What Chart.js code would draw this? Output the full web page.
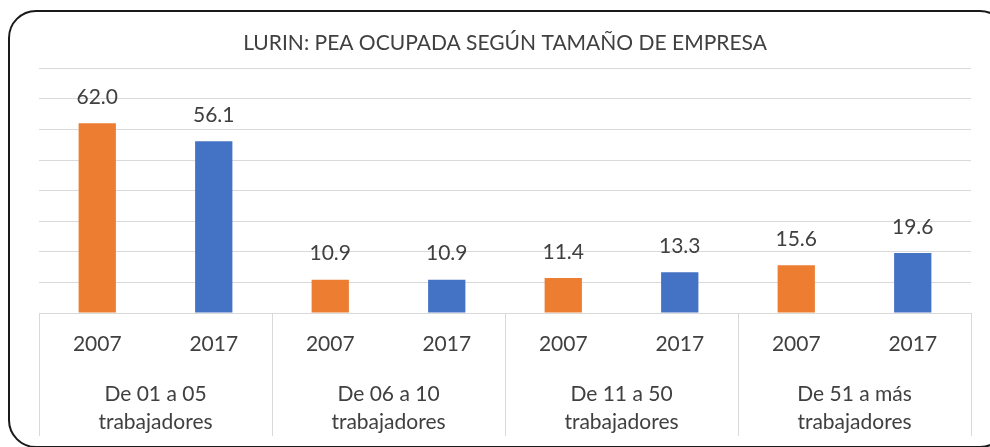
<!DOCTYPE html>
<html>
<head>
<meta charset="utf-8">
<script src="https://cdn.jsdelivr.net/npm/chart.js@4/dist/chart.umd.min.js"></script>
<style>
    body { margin: 0; background: #fff; overflow: hidden; }
    .wrap { position: relative; width: 990px; height: 447px; }
    .frame {
        position: absolute; left: 8px; top: 10px; width: 1000px; height: 438px;
        border: 2px solid #1a1a1a; border-radius: 28px; box-sizing: border-box;
    }
    canvas { position: absolute; left: 0; top: 0; }
</style>
</head>
<body>
<div class="wrap">
    <div class="frame"></div>
    <canvas id="barChart" width="990" height="447"></canvas>
</div>
<script>
const groups = [
    ['De 01 a 05', 'trabajadores'],
    ['De 06 a 10', 'trabajadores'],
    ['De 11 a 50', 'trabajadores'],
    ['De 51 a más', 'trabajadores']
];
const years = ['2007', '2017'];
const values2007 = [62.0, 10.9, 11.4, 15.6];
const values2017 = [56.1, 10.9, 13.3, 19.6];

const colors = { '2007': '#ED7D31', '2017': '#4472C4' };
const textColor = '#404040';
const gridColor = '#D9D9D9';

// interleave: 2007, 2017 for each group
const labels = [];
const values = [];
const barColors = [];
groups.forEach((g, i) => {
    labels.push(years[0]);
    values.push(values2007[i]);
    barColors.push(colors[years[0]]);
    labels.push(years[1]);
    values.push(values2017[i]);
    barColors.push(colors[years[1]]);
});

Chart.defaults.font.family = 'Lato';

const valueLabels = {
    id: 'valueLabels',
    afterDatasetsDraw(chart) {
        const ctx = chart.ctx;
        const meta = chart.getDatasetMeta(0);
        ctx.save();
        ctx.font = '21px Lato';
        ctx.fillStyle = textColor;
        ctx.textAlign = 'center';
        ctx.textBaseline = 'middle';
        meta.data.forEach((bar, i) => {
            ctx.fillText(values[i].toFixed(1), bar.x, bar.y - 26);
        });
        ctx.restore();
    }
};

const groupDividers = {
    id: 'groupDividers',
    afterDraw(chart) {
        const ctx = chart.ctx;
        const x = chart.scales.x;
        const x2 = chart.scales.x2;
        const area = chart.chartArea;
        const xs = [area.left];
        for (let k = 1; k < groups.length; k++) {
            xs.push((x.getPixelForValue(2 * k - 1) + x.getPixelForValue(2 * k)) / 2);
        }
        xs.push(area.right);
        ctx.save();
        ctx.strokeStyle = gridColor;
        ctx.lineWidth = 1;
        xs.forEach(px => {
            const p = Math.round(px) + 0.5;
            ctx.beginPath();
            ctx.moveTo(p, area.bottom);
            ctx.lineTo(p, x2.bottom + 2);
            ctx.stroke();
        });
        ctx.restore();
    }
};

const barCtx = document.getElementById('barChart').getContext('2d');
const barChart = new Chart(barCtx, {
    type: 'bar',
    data: {
        labels: labels,
        datasets: [
            {
                label: 'PEA ocupada',
                data: values,
                backgroundColor: barColors,
                borderWidth: 0,
                categoryPercentage: 1,
                barPercentage: 0.32
            }
        ]
    },
    options: {
        responsive: false,
        animation: false,
        layout: {
            padding: { left: 39, right: 19, top: 31, bottom: 13 }
        },
        scales: {
            x: {
                grid: { display: false, drawTicks: false },
                border: { display: true, color: gridColor },
                afterFit: s => { s.height = 44; },
                ticks: {
                    color: textColor,
                    font: { size: 21 },
                    padding: 19,
                    maxRotation: 0,
                    autoSkip: false
                }
            },
            x2: {
                type: 'category',
                position: 'bottom',
                weight: 1,
                labels: groups,
                offset: true,
                grid: { display: false, drawTicks: false },
                border: { display: false },
                afterFit: s => { s.height = 77; },
                ticks: {
                    color: textColor,
                    font: { size: 21, lineHeight: 1.33 },
                    padding: 23,
                    maxRotation: 0,
                    autoSkip: false
                }
            },
            y: {
                min: 0,
                max: 80,
                grid: { color: gridColor, drawTicks: false },
                border: { display: false },
                ticks: { display: false, stepSize: 10 }
            }
        },
        plugins: {
            legend: { display: false },
            tooltip: { enabled: false },
            title: {
                display: true,
                text: 'LURIN: PEA OCUPADA SEGÚN TAMAÑO DE EMPRESA',
                color: textColor,
                font: { size: 21, weight: 'normal' },
                padding: { top: 0, bottom: 12 }
            }
        }
    },
    plugins: [valueLabels, groupDividers]
});
</script>
</body>
</html>
